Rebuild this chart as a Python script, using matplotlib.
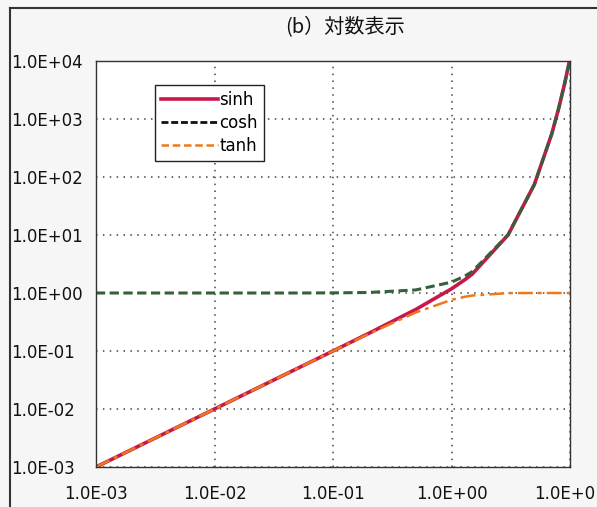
import numpy as np
import matplotlib.pyplot as plt
from matplotlib.lines import Line2D

# sample points and function values (log-log view)
x_vals = [0.001, 0.002, 0.005, 0.01, 0.02, 0.05, 0.1, 0.2, 0.5, 1.0, 1.3, 1.5, 3.0, 5.0, 7.0, 8.0, 9.0, 10.0]
sinh_vals = [0.001, 0.002, 0.005, 0.01, 0.02, 0.05, 0.1, 0.201, 0.521, 1.18, 1.70, 2.13, 10.0, 74.2, 548, 1490, 4050, 11000]
cosh_vals = [1.0, 1.0, 1.0, 1.0, 1.0, 1.0, 1.005, 1.02, 1.13, 1.54, 1.97, 2.35, 10.1, 74.2, 548, 1490, 4050, 11000]
tanh_vals = [0.001, 0.002, 0.005, 0.01, 0.02, 0.05, 0.0997, 0.197, 0.462, 0.762, 0.862, 0.905, 0.995, 1.0, 1.0, 1.0, 1.0, 1.0]

x_ticks = [1e-3, 1e-2, 1e-1, 1e0, 1e1]
x_labels = ["1.0E-03", "1.0E-02", "1.0E-01", "1.0E+00", "1.0E+01"]
y_ticks = [1e-3, 1e-2, 1e-1, 1e0, 1e1, 1e2, 1e3, 1e4]
y_labels = ["1.0E-03", "1.0E-02", "1.0E-01", "1.0E+00", "1.0E+01", "1.0E+02", "1.0E+03", "1.0E+04"]

plt.rcParams['font.family'] = ['DejaVu Sans']

fig = plt.figure(figsize=(5.97, 5.07), dpi=100, facecolor='#f6f6f6')
ax = fig.add_axes([0.1608, 0.0789, 0.794, 0.8008])
ax.set_facecolor('white')

sinh_color = '#c8174a'
cosh_color = '#35613a'
tanh_color = '#ec7a1c'

ax.plot(x_vals, sinh_vals, color=sinh_color, lw=2.6, solid_joinstyle='round')
ax.plot(x_vals, cosh_vals, color=cosh_color, lw=2.2, linestyle=(0, (3, 1.5)))
ax.plot(x_vals, tanh_vals, color=tanh_color, lw=1.8, linestyle=(0, (6, 2, 1.5, 2)))

ax.set_xscale('log')
ax.set_yscale('log')
ax.set_xlim(1e-3, 1e1)
ax.set_ylim(1e-3, 1e4)
ax.set_xticks(x_ticks)
ax.set_xticklabels(x_labels)
ax.set_yticks(y_ticks)
ax.set_yticklabels(y_labels)
ax.minorticks_off()
ax.tick_params(axis='both', length=0, labelsize=12, colors='#111111')
ax.tick_params(axis='x', pad=13)
ax.tick_params(axis='y', pad=61)
for lbl in ax.get_yticklabels():
    lbl.set_horizontalalignment('left')

ax.grid(True, color='#444444', linestyle=(0, (1, 3.5)), linewidth=1.1)
for sp in ax.spines.values():
    sp.set_color('#333333')
    sp.set_linewidth(1.0)

handles = [Line2D([], [], color=sinh_color, lw=2.6),
           Line2D([], [], color='#111111', lw=2.0, linestyle=(0, (2.5, 1))),
           Line2D([], [], color=tanh_color, lw=1.8, linestyle=(0, (3, 1.5)))]
leg = ax.legend(handles, ['sinh', 'cosh', 'tanh'], loc='upper left',
                bbox_to_anchor=(0.1245, 0.941), borderaxespad=0, fontsize=12,
                handlelength=3.4, handletextpad=0.1, labelspacing=0.3, borderpad=0.35,
                fancybox=False, framealpha=1, edgecolor='#222222')
leg.get_frame().set_linewidth(1.0)

fig.text(0.578, 0.945, "(b）対数表示", ha='center', va='center', fontsize=14.5,
         family=['Noto Sans CJK JP', 'DejaVu Sans'], color='#111111')

# outer chart frame (left and top edges)
fig.add_artist(Line2D([0.0168, 0.0168], [0.0, 0.984], transform=fig.transFigure,
                      color='#333333', lw=1.5))
fig.add_artist(Line2D([0.0168, 1.0], [0.984, 0.984], transform=fig.transFigure,
                      color='#333333', lw=1.5))

fig.savefig('out.png', dpi=100, facecolor=fig.get_facecolor())
